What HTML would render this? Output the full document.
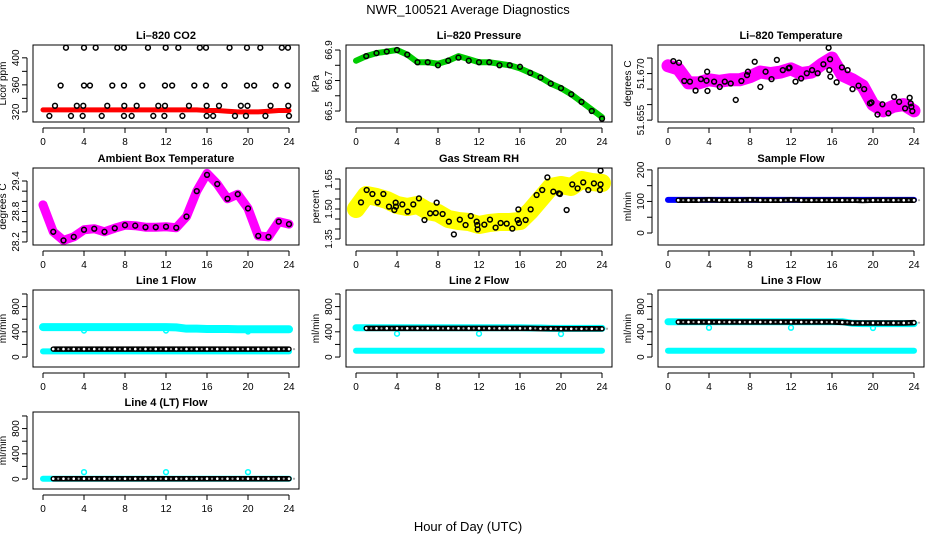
<!DOCTYPE html>
<html><head><meta charset="utf-8">
<style>
body{margin:0;background:#fff;}
svg{display:block;font-family:"Liberation Sans",Arial,sans-serif;}
</style></head>
<body>
<svg id="c" width="936" height="540" viewBox="0 0 936 540">
<text x="468" y="14" text-anchor="middle" font-size="13">NWR_100521  Average Diagnostics</text>
<text x="468" y="531" text-anchor="middle" font-size="13">Hour of Day (UTC)</text>
</svg>
<script>
// ---- data ----
const hours = [0,1,2,3,4,5,6,7,8,9,10,11,12,13,14,15,16,17,18,19,20,21,22,23,24];
const xTicks = [0,4,8,12,16,20,24];
// CO2
const co2Red = [323,323,323,323,323,323,323,323,323,323,323,323,323,323,323,323,322,322,321,320,320,320,321,322,322];
const co2BlackHours = [2.24,4.0,5.14,7.25,7.9,10.24,11.97,13.2,15.3,15.9,18.2,19.9,21.2,23.3,23.9, 1.72,4.0,4.58,6.76,7.9,9.69,11.9,12.6,14.76,15.9,17.7,19.9,20.6,22.7,23.87, 1.17,3.3,3.93,6.27,7.93,9.14,11.25,11.9,14.24,15.97,17.17,19.3,19.95,22.2,23.93, 0.62,2.73,3.87,5.73,7.9,8.65,10.76,11.84,13.6,15.97,16.6,18.73,19.8,21.7,24.0];
const co2BlackVals = [415,415,415,415,415,415,415,415,415,415,415,415,415,415,415, 359,359,359,359,359,359,359,359,359,359,359,359,359,359,359, 329,329,329,329,329,329,329,329,329,329,329,329,329,329,329, 314,314,314,314,314,314,314,314,314,314,314,314,314,314,314];
// Pressure
const presGreen = [66.83,66.86,66.88,66.89,66.90,66.87,66.82,66.82,66.81,66.83,66.86,66.84,66.82,66.82,66.81,66.80,66.78,66.75,66.72,66.68,66.65,66.61,66.56,66.51,66.46];
const presBlack = [66.84,66.86,66.88,66.89,66.90,66.87,66.82,66.82,66.80,66.83,66.85,66.83,66.82,66.82,66.80,66.80,66.79,66.75,66.72,66.68,66.65,66.61,66.56,66.50,66.45];
// Li-820 temperature
const ltMag = [51.6725,51.6715,51.667,51.667,51.668,51.6675,51.668,51.668,51.669,51.6705,51.670,51.6705,51.6715,51.670,51.6705,51.673,51.675,51.6695,51.668,51.666,51.660,51.658,51.6595,51.660,51.658];
const ltBlackHours = [0.52,1.07,1.59,2.14,2.69,3.21,3.76,3.85,3.82,4.5,5.05,5.54,6.12,6.61,7.16,7.71,7.8,8.46,9.01,9.52,10.1,10.62,11.2,11.76,11.86,12.44,12.99,13.54,14.06,14.6,15.16,15.67,15.74,15.81,15.84,16.45,16.97,17.52,18.0,18.59,19.14,19.7,19.85,20.44,20.92,21.5,22.06,22.55,23.13,23.58,23.68,23.74,23.84];
const ltBlackVals = [51.6740,51.6735,51.6676,51.6674,51.6645,51.6682,51.6677,51.6644,51.6706,51.6674,51.6657,51.6674,51.6668,51.6615,51.6676,51.6695,51.6706,51.6738,51.6657,51.6706,51.6682,51.6744,51.6711,51.6717,51.6719,51.6674,51.6684,51.6701,51.6711,51.6701,51.6730,51.6783,51.6711,51.6746,51.6690,51.6672,51.6720,51.6711,51.6650,51.6661,51.6650,51.6604,51.6607,51.6568,51.6601,51.6572,51.6625,51.6609,51.6588,51.6622,51.6604,51.6593,51.6579];
// Ambient
const ambMag = [28.93,28.40,28.23,28.30,28.44,28.46,28.40,28.47,28.53,28.52,28.49,28.49,28.50,28.48,28.70,29.20,29.55,29.34,29.05,29.14,28.86,28.32,28.30,28.60,28.55];
const ambBlack = [28.93,28.40,28.23,28.30,28.44,28.46,28.40,28.47,28.53,28.52,28.49,28.49,28.50,28.48,28.70,29.20,29.52,29.34,29.05,29.14,28.86,28.32,28.30,28.60,28.55];
// RH
const rhYellow = [1.50,1.57,1.56,1.545,1.52,1.51,1.52,1.49,1.48,1.45,1.44,1.435,1.42,1.43,1.435,1.435,1.44,1.49,1.55,1.61,1.62,1.61,1.645,1.635,1.63];
const rhBlackHours = [0.49,1.04,1.6,2.11,2.67,3.22,3.74,3.87,3.9,4.52,5.04,5.59,6.14,6.68,7.23,7.78,7.87,8.45,9.06,9.55,10.13,10.69,11.2,11.77,11.84,11.87,12.52,13.07,13.62,14.11,14.7,15.25,15.77,15.84,15.9,16.55,17.04,17.62,18.17,18.67,19.25,19.8,19.9,20.55,21.1,21.62,22.17,22.66,23.21,23.8,23.86,23.86];
const rhBlackVals = [1.533,1.595,1.575,1.533,1.575,1.512,1.495,1.532,1.512,1.523,1.487,1.523,1.553,1.445,1.478,1.48,1.532,1.475,1.437,1.373,1.447,1.42,1.465,1.437,1.42,1.398,1.422,1.447,1.407,1.43,1.427,1.402,1.445,1.498,1.43,1.445,1.498,1.57,1.595,1.658,1.587,1.578,1.575,1.495,1.623,1.603,1.633,1.595,1.628,1.595,1.623,1.692];
// Sample flow
const sfBlue = [105,105,105,105,105,105,105,105,105,105,105,105,105,105,105,105,105,105,105,105,105,105,105,105,105];
const sfBlack = [104,104,104,104,105,104,104,104,105,104,104,104,105,104,104,104,104,104,104,103,104,104,104,104,104];
// Line flows
const l1Upper = [475,475,475,475,475,475,475,475,475,475,475,475,475,470,450,450,445,445,445,440,440,440,440,440,440];
const l1Lower = [90,90,90,90,90,90,90,90,90,90,90,90,90,90,90,90,90,90,90,90,90,90,90,90,90];
const l1Black = [126,126,126,126,126,126,126,126,126,126,126,126,126,126,126,126,126,126,126,126,126,126,126,126,126];
const l2Upper = [465,465,465,465,465,465,465,465,465,465,465,465,465,465,465,465,465,460,460,455,455,455,455,455,455];
const l2Lower = [100,100,100,100,100,100,100,100,100,100,100,100,100,100,100,100,100,100,100,100,100,100,100,100,100];
const l2Black = [455,455,455,455,455,455,455,455,455,455,455,455,455,455,455,455,455,455,450,450,448,448,448,448,448];
const l3Upper = [560,560,560,560,560,560,560,560,560,560,560,560,560,560,560,560,560,560,535,530,530,530,530,530,530];
const l3Lower = [100,100,100,100,100,100,100,100,100,100,100,100,100,100,100,100,100,100,100,100,100,100,100,100,100];
const l3Black = [555,555,555,555,555,555,555,555,555,555,555,555,555,555,555,555,555,550,540,540,540,540,540,540,545];
const l4Cyan = [5,5,5,5,5,5,5,5,5,5,5,5,5,5,5,5,5,5,5,5,5,5,5,5,5];
const l4Black = [5,5,5,5,5,5,5,5,5,5,5,5,5,5,5,5,5,5,5,5,5,5,5,5,5];
const dipHours = [4,12,20];
const l1Dips = [420,420,405];
const l2Dips = [370,370,365];
const l3Dips = [465,465,460];
const l4Dips = [110,110,110];

// ---- drawing ----
const NS = 'http://www.w3.org/2000/svg';
const svg = document.getElementById('c');
const colL = [33, 346, 658], rowT = [45, 168, 290, 412], W = 266, H = 77;
function mk(tag, attrs, parent) {
  const e = document.createElementNS(NS, tag);
  for (const k in attrs) e.setAttribute(k, attrs[k]);
  (parent || svg).appendChild(e);
  return e;
}
function panel(col, row, title, ylab, ymin, ymax, yTicks, yLabels, name) {
  const L = colL[col], T = rowT[row];
  const g = mk('g', {});
  
  
  const xs = h => L + 10 + h * 10.25;
  const ys = v => T + H - (v - ymin) / (ymax - ymin) * H;
  const t = mk('text', {x: L + W / 2, y: T - 6, 'text-anchor': 'middle', 'font-size': 11, 'font-weight': 'bold'}, g);
  t.textContent = title;
  
  
  const xa = mk('g', {}, g);
  
  
  mk('line', {x1: xs(0), x2: xs(24), y1: T + H + 6, y2: T + H + 6, stroke: '#000'}, xa);
  xTicks.forEach(v => {
    mk('line', {x1: xs(v), x2: xs(v), y1: T + H + 6, y2: T + H + 11, stroke: '#000'}, xa);
    const tx = mk('text', {x: xs(v), y: T + H + 23, 'text-anchor': 'middle', 'font-size': 10}, xa);
    tx.textContent = v;
  });
  const ya = mk('g', {}, g);
  
  
  mk('line', {x1: L - 6, x2: L - 6, y1: ys(yTicks[0]), y2: ys(yTicks[yTicks.length - 1]), stroke: '#000'}, ya);
  yTicks.forEach(v => {
    mk('line', {x1: L - 11, x2: L - 6, y1: ys(v), y2: ys(v), stroke: '#000'}, ya);
  });
  yLabels.forEach(v => {
    const y = ys(parseFloat(v));
    const tx = mk('text', {x: L - 14, y: y, 'text-anchor': 'middle', 'font-size': 10, transform: `rotate(-90 ${L - 14} ${y})`}, ya);
    tx.textContent = v;
  });
  const yl = mk('text', {x: L - 27, y: T + H / 2, 'text-anchor': 'middle', 'font-size': 10, transform: `rotate(-90 ${L - 27} ${T + H / 2})`}, g);
  yl.textContent = ylab;
  
  
  const clipId = 'clip' + col + row;
  const cp = mk('clipPath', {id: clipId}, g);
  mk('rect', {x: L, y: T, width: W, height: H}, cp);
  const plot = mk('g', {'clip-path': `url(#${clipId})`}, g);
  mk('rect', {x: L, y: T, width: W, height: H, fill: 'none', stroke: '#000', 'stroke-width': 1}, g);
  return {xs, ys, plot};
}
function band(p, hs, vals, color, w, name) {
  const pts = hs.map((h, i) => p.xs(h) + ',' + p.ys(vals[i])).join(' ');
  const e = mk('polyline', {points: pts, fill: 'none', stroke: color, 'stroke-width': w, 'stroke-linejoin': 'round', 'stroke-linecap': 'round'}, p.plot);
  
  
}
function dots(p, hs, vals, color, name) {
  const g = mk('g', {}, p.plot);
  
  
  hs.forEach((h, i) => {
    mk('circle', {cx: p.xs(h), cy: p.ys(vals[i]), r: 2.4, fill: 'none', stroke: color, 'stroke-width': 1.5}, g);
  });
}
function chain(p, hs, vals, name) {
  band(p, hs.slice(1), vals.slice(1), '#000', 5.5, name + '-chain');
  const g = mk('g', {}, p.plot);
  
  
  hs.slice(1).forEach((h, i) => {
    mk('circle', {cx: p.xs(h), cy: p.ys(vals[i + 1]), r: 1.3, fill: '#fff'}, g);
    mk('circle', {cx: p.xs(h) + 5, cy: p.ys(vals[i + 1]), r: 1.1, fill: '#aaa'}, g);
  });
}
const flowTicks = [0, 200, 400, 600, 800, 1000];
const flowLabels = ['0', '400', '800'];

// CO2
let p = panel(0, 0, 'Li\u2013820 CO2', 'Licor ppm', 305, 419, [320, 340, 360, 380, 400], ['320', '360', '400'], 'co2');
band(p, hours, co2Red, '#ff0000', 5, 'co2-red-band');
dots(p, co2BlackHours, co2BlackVals, '#000', 'co2-black-points');
// Pressure
p = panel(1, 0, 'Li\u2013820 Pressure', 'kPa', 66.428, 66.933, [66.5, 66.6, 66.7, 66.8, 66.9], ['66.5', '66.7', '66.9'], 'pressure');
band(p, hours, presGreen, '#00cc00', 6, 'pressure-green-band');
dots(p, hours.slice(1), presBlack.slice(1), '#000', 'pressure-black-points');
// Li temp
p = panel(2, 0, 'Li\u2013820 Temperature', 'degrees C', 51.6544, 51.6792, [51.655, 51.66, 51.665, 51.67, 51.675], ['51.655', '51.670'], 'li-temp');
band(p, hours, ltMag, '#ff00ff', 13, 'li-temp-magenta-band');
dots(p, ltBlackHours, ltBlackVals, '#000', 'li-temp-black-points');
// Ambient
p = panel(0, 1, 'Ambient Box Temperature', 'degrees C', 28.14, 29.656, [28.2, 28.4, 28.6, 28.8, 29.0, 29.2, 29.4], ['28.2', '28.8', '29.4'], 'ambient');
band(p, hours, ambMag, '#ff00ff', 9, 'ambient-magenta-band');
dots(p, hours.slice(1), ambBlack.slice(1), '#000', 'ambient-black-points');
// RH
p = panel(1, 1, 'Gas Stream RH', 'percent', 1.32, 1.705, [1.35, 1.40, 1.45, 1.50, 1.55, 1.60, 1.65], ['1.35', '1.50', '1.65'], 'rh');
band(p, hours, rhYellow, '#ffff00', 18, 'rh-yellow-band');
dots(p, rhBlackHours, rhBlackVals, '#000', 'rh-black-points');
// Sample flow
p = panel(2, 1, 'Sample Flow', 'ml/min', -38, 206, [0, 50, 100, 150, 200], ['0', '100', '200'], 'sample-flow');
band(p, hours, sfBlue, '#0000ff', 6, 'sample-flow-blue-band');
chain(p, hours, sfBlack, 'sample-flow-black-points');
// Line 1
p = panel(0, 2, 'Line 1 Flow', 'ml/min', -158, 1063, flowTicks, flowLabels, 'line1');
band(p, hours, l1Upper, '#00ffff', 8, 'line1-cyan-upper');
band(p, hours, l1Lower, '#00ffff', 6, 'line1-cyan-lower');
dots(p, dipHours, l1Dips, '#00ffff', 'line1-cyan-dips');
chain(p, hours, l1Black, 'line1-black-points');
// Line 2
p = panel(1, 2, 'Line 2 Flow', 'ml/min', -158, 1063, flowTicks, flowLabels, 'line2');
band(p, hours, l2Upper, '#00ffff', 7, 'line2-cyan-upper');
band(p, hours, l2Lower, '#00ffff', 6, 'line2-cyan-lower');
dots(p, dipHours, l2Dips, '#00ffff', 'line2-cyan-dips');
chain(p, hours, l2Black, 'line2-black-points');
// Line 3
p = panel(2, 2, 'Line 3 Flow', 'ml/min', -158, 1063, flowTicks, flowLabels, 'line3');
band(p, hours, l3Upper, '#00ffff', 7, 'line3-cyan-upper');
band(p, hours, l3Lower, '#00ffff', 6, 'line3-cyan-lower');
dots(p, dipHours, l3Dips, '#00ffff', 'line3-cyan-dips');
chain(p, hours, l3Black, 'line3-black-points');
// Line 4
p = panel(0, 3, 'Line 4 (LT) Flow', 'ml/min', -158, 1063, flowTicks, flowLabels, 'line4');
band(p, hours, l4Cyan, '#00ffff', 6, 'line4-cyan-band');
dots(p, dipHours, l4Dips, '#00ffff', 'line4-cyan-dips');
chain(p, hours, l4Black, 'line4-black-points');
</script>
</body></html>
